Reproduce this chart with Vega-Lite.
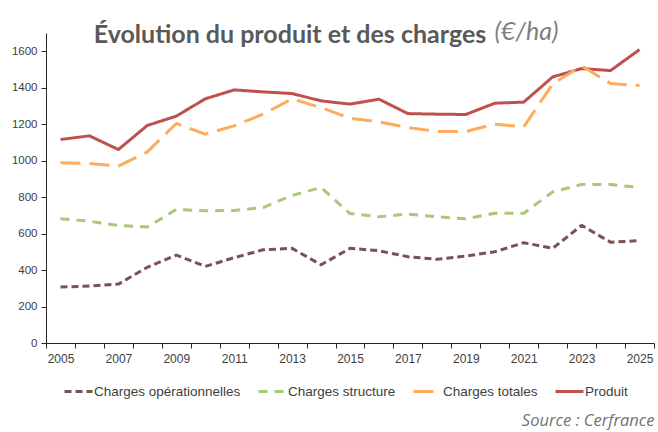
{
  "$schema": "https://vega.github.io/schema/vega-lite/v6.json",
  "padding": {"left": 11, "top": 19, "right": 3, "bottom": 0},
  "title": {"text": "Source : Cerfrance", "orient": "bottom", "anchor": "end", "font": "Open Sans", "fontSize": 16.5, "fontStyle": "italic", "fontWeight": "normal", "color": "#767171", "offset": 15},
  "vconcat": [
    {
      "width": 608,
      "height": 310,
      "title": {"text": "Évolution du produit et des charges", "font": "Lato", "fontSize": 25, "fontWeight": "bold", "color": "#595959", "anchor": "middle", "dx": -60, "offset": -29},
      "data": {"values": [
        {"annee": 2005, "serie": "Produit", "valeur": 1116},
        {"annee": 2006, "serie": "Produit", "valeur": 1136},
        {"annee": 2007, "serie": "Produit", "valeur": 1061},
        {"annee": 2008, "serie": "Produit", "valeur": 1193},
        {"annee": 2009, "serie": "Produit", "valeur": 1244},
        {"annee": 2010, "serie": "Produit", "valeur": 1339},
        {"annee": 2011, "serie": "Produit", "valeur": 1388},
        {"annee": 2012, "serie": "Produit", "valeur": 1377},
        {"annee": 2013, "serie": "Produit", "valeur": 1368},
        {"annee": 2014, "serie": "Produit", "valeur": 1328},
        {"annee": 2015, "serie": "Produit", "valeur": 1310},
        {"annee": 2016, "serie": "Produit", "valeur": 1337},
        {"annee": 2017, "serie": "Produit", "valeur": 1258},
        {"annee": 2018, "serie": "Produit", "valeur": 1255},
        {"annee": 2019, "serie": "Produit", "valeur": 1253},
        {"annee": 2020, "serie": "Produit", "valeur": 1315},
        {"annee": 2021, "serie": "Produit", "valeur": 1321},
        {"annee": 2022, "serie": "Produit", "valeur": 1459},
        {"annee": 2023, "serie": "Produit", "valeur": 1505},
        {"annee": 2024, "serie": "Produit", "valeur": 1494},
        {"annee": 2025, "serie": "Produit", "valeur": 1609},
        {"annee": 2005, "serie": "Charges totales", "valeur": 988},
        {"annee": 2006, "serie": "Charges totales", "valeur": 984},
        {"annee": 2007, "serie": "Charges totales", "valeur": 970},
        {"annee": 2008, "serie": "Charges totales", "valeur": 1048},
        {"annee": 2009, "serie": "Charges totales", "valeur": 1204},
        {"annee": 2010, "serie": "Charges totales", "valeur": 1145},
        {"annee": 2011, "serie": "Charges totales", "valeur": 1191},
        {"annee": 2012, "serie": "Charges totales", "valeur": 1255},
        {"annee": 2013, "serie": "Charges totales", "valeur": 1339},
        {"annee": 2014, "serie": "Charges totales", "valeur": 1291},
        {"annee": 2015, "serie": "Charges totales", "valeur": 1232},
        {"annee": 2016, "serie": "Charges totales", "valeur": 1213},
        {"annee": 2017, "serie": "Charges totales", "valeur": 1182},
        {"annee": 2018, "serie": "Charges totales", "valeur": 1160},
        {"annee": 2019, "serie": "Charges totales", "valeur": 1160},
        {"annee": 2020, "serie": "Charges totales", "valeur": 1200},
        {"annee": 2021, "serie": "Charges totales", "valeur": 1185},
        {"annee": 2022, "serie": "Charges totales", "valeur": 1420},
        {"annee": 2023, "serie": "Charges totales", "valeur": 1520},
        {"annee": 2024, "serie": "Charges totales", "valeur": 1423},
        {"annee": 2025, "serie": "Charges totales", "valeur": 1412},
        {"annee": 2005, "serie": "Charges structure", "valeur": 681},
        {"annee": 2006, "serie": "Charges structure", "valeur": 668},
        {"annee": 2007, "serie": "Charges structure", "valeur": 645},
        {"annee": 2008, "serie": "Charges structure", "valeur": 636},
        {"annee": 2009, "serie": "Charges structure", "valeur": 732},
        {"annee": 2010, "serie": "Charges structure", "valeur": 725},
        {"annee": 2011, "serie": "Charges structure", "valeur": 727},
        {"annee": 2012, "serie": "Charges structure", "valeur": 743},
        {"annee": 2013, "serie": "Charges structure", "valeur": 809},
        {"annee": 2014, "serie": "Charges structure", "valeur": 853},
        {"annee": 2015, "serie": "Charges structure", "valeur": 710},
        {"annee": 2016, "serie": "Charges structure", "valeur": 692},
        {"annee": 2017, "serie": "Charges structure", "valeur": 707},
        {"annee": 2018, "serie": "Charges structure", "valeur": 692},
        {"annee": 2019, "serie": "Charges structure", "valeur": 681},
        {"annee": 2020, "serie": "Charges structure", "valeur": 711},
        {"annee": 2021, "serie": "Charges structure", "valeur": 711},
        {"annee": 2022, "serie": "Charges structure", "valeur": 829},
        {"annee": 2023, "serie": "Charges structure", "valeur": 869},
        {"annee": 2024, "serie": "Charges structure", "valeur": 869},
        {"annee": 2025, "serie": "Charges structure", "valeur": 853},
        {"annee": 2005, "serie": "Charges opérationnelles", "valeur": 307},
        {"annee": 2006, "serie": "Charges opérationnelles", "valeur": 312},
        {"annee": 2007, "serie": "Charges opérationnelles", "valeur": 323},
        {"annee": 2008, "serie": "Charges opérationnelles", "valeur": 415},
        {"annee": 2009, "serie": "Charges opérationnelles", "valeur": 482},
        {"annee": 2010, "serie": "Charges opérationnelles", "valeur": 420},
        {"annee": 2011, "serie": "Charges opérationnelles", "valeur": 468},
        {"annee": 2012, "serie": "Charges opérationnelles", "valeur": 511},
        {"annee": 2013, "serie": "Charges opérationnelles", "valeur": 519},
        {"annee": 2014, "serie": "Charges opérationnelles", "valeur": 429},
        {"annee": 2015, "serie": "Charges opérationnelles", "valeur": 519},
        {"annee": 2016, "serie": "Charges opérationnelles", "valeur": 506},
        {"annee": 2017, "serie": "Charges opérationnelles", "valeur": 473},
        {"annee": 2018, "serie": "Charges opérationnelles", "valeur": 459},
        {"annee": 2019, "serie": "Charges opérationnelles", "valeur": 477},
        {"annee": 2020, "serie": "Charges opérationnelles", "valeur": 500},
        {"annee": 2021, "serie": "Charges opérationnelles", "valeur": 550},
        {"annee": 2022, "serie": "Charges opérationnelles", "valeur": 519},
        {"annee": 2023, "serie": "Charges opérationnelles", "valeur": 645},
        {"annee": 2024, "serie": "Charges opérationnelles", "valeur": 553},
        {"annee": 2025, "serie": "Charges opérationnelles", "valeur": 561}
      ]},
      "mark": {"type": "line", "strokeWidth": 3, "strokeJoin": "round"},
      "encoding": {
        "x": {
          "field": "annee", "type": "ordinal", "bandPosition": 0.5,
          "scale": {"type": "band", "paddingInner": 0, "paddingOuter": 0},
          "axis": {
            "title": null, "labelAngle": 0, "tickBand": "extent", "tickSize": 5,
            "labelExpr": "datum.value % 2 == 1 ? datum.label : ''",
            "labelFont": "Liberation Sans", "labelFontSize": 12, "labelColor": "#404040",
            "labelPadding": 5, "domainColor": "#262626", "tickColor": "#262626", "labelOverlap": false
          }
        },
        "y": {
          "field": "valeur", "type": "quantitative",
          "scale": {"domain": [0, 1700], "nice": false},
          "axis": {
            "values": [0, 200, 400, 600, 800, 1000, 1200, 1400, 1600], "format": "d",
            "grid": false, "tickSize": 5, "labelPadding": 4,
            "labelFont": "Liberation Sans", "labelFontSize": 11.5, "labelColor": "#404040",
            "domainColor": "#262626", "tickColor": "#262626",
            "title": "(€/ha)", "titleAngle": 0, "titleAlign": "left", "titleBaseline": "alphabetic",
            "titleX": 448, "titleY": 6, "titleFont": "Lato", "titleFontSize": 25,
            "titleFontStyle": "italic", "titleFontWeight": "normal", "titleColor": "#7f7f7f"
          }
        },
        "color": {
          "field": "serie", "type": "nominal",
          "scale": {
            "domain": ["Charges opérationnelles", "Charges structure", "Charges totales", "Produit"],
            "range": ["#7b5151", "#a8c87a", "#fbad5c", "#c0504d"]
          },
          "legend": {
            "orient": "none", "legendX": 17, "legendY": 343, "direction": "horizontal", "title": null,
            "symbolType": "stroke", "symbolStrokeWidth": 3, "symbolSize": 784,
            "labelFont": "Liberation Sans", "labelFontSize": 13.5, "labelColor": "#404040",
            "labelOffset": 0, "columnPadding": 11
          }
        },
        "strokeDash": {
          "field": "serie", "type": "nominal",
          "scale": {
            "domain": ["Charges opérationnelles", "Charges structure", "Charges totales", "Produit"],
            "range": [[7, 4], [9, 7], [20, 9], [1, 0]]
          },
          "legend": null
        }
      }
    }
  ],
  "config": {"view": {"stroke": null}, "background": "white"}
}
